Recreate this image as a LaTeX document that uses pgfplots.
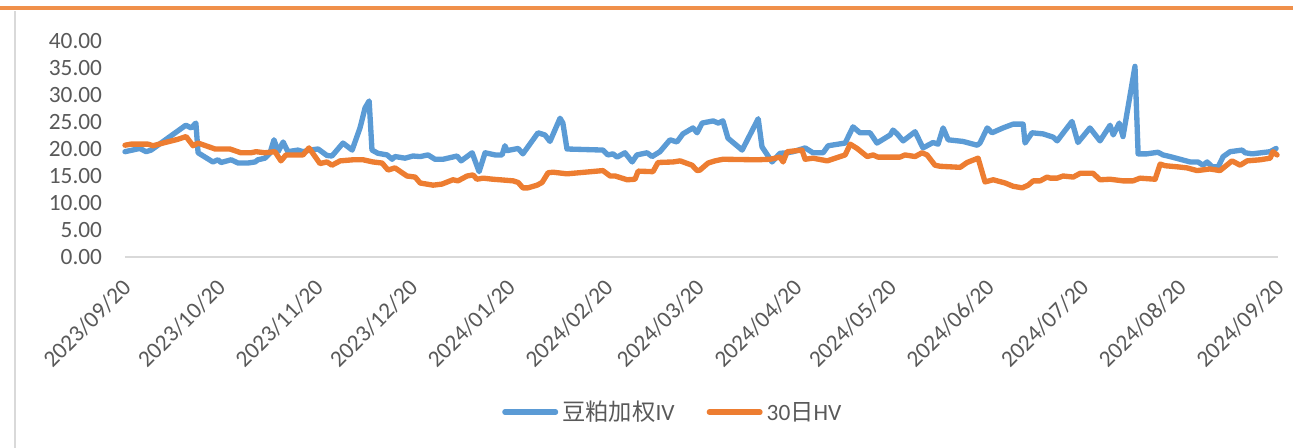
\documentclass[border=0pt]{standalone}
\usepackage{pgfplots}
\pgfplotsset{compat=1.18}
\usepackage{pgfplotstable}
\usepackage{fontspec}
\setmainfont{Carlito}
\newfontfamily\cjk{Noto Sans CJK SC}
\definecolor{ivblue}{HTML}{5B9BD5}
\definecolor{hvorange}{HTML}{ED7D31}
\definecolor{txtgray}{HTML}{595959}
\definecolor{axgray}{HTML}{D9D9D9}
\definecolor{topline}{HTML}{F0904A}

\pgfplotstableread{
d v
0 19.5
4.7 20.1
6.7 19.5
8.3 19.8
19.3 24.4
21.0 23.9
22.5 24.8
23.2 19.3
27.9 17.6
29.5 18.0
30.5 17.5
33.7 18.0
35.9 17.4
39.0 17.4
41.3 17.6
42.2 18.0
44.4 18.3
46.0 19.2
47.3 21.7
48.6 19.5
50.2 21.3
51.7 19.5
54.9 19.8
56.5 19.5
58.7 19.8
61.3 20.0
64.1 18.8
65.7 18.7
69.2 21.1
72.1 19.8
74.6 23.9
76.2 27.6
77.5 28.9
78.4 19.8
80.3 19.2
83.2 18.9
84.8 18.1
85.7 18.6
88.9 18.3
91.4 18.7
93.7 18.6
96.2 18.9
98.4 18.1
101.0 18.1
105.4 18.7
106.7 17.8
110.2 19.3
112.4 15.8
114.3 19.3
117.5 18.9
119.7 18.9
120.6 20.6
121.3 19.7
124.8 20.1
126.3 19.1
131.1 23.0
133.3 22.6
134.9 21.4
138.1 25.7
139.0 24.8
140.3 20.0
151.7 19.8
153.3 18.9
154.9 19.1
156.2 18.5
158.7 19.3
161.0 17.6
162.5 18.9
165.7 19.3
167.3 18.6
169.8 19.5
173.0 21.7
175.2 21.3
177.1 22.8
180.3 23.9
181.6 23.0
183.2 24.8
186.7 25.2
188.3 24.8
189.8 25.2
191.4 22.0
195.9 19.8
201.0 25.6
202.2 20.4
205.4 17.6
207.9 19.2
210.2 19.3
212.1 19.5
215.9 20.2
218.4 19.3
221.6 19.3
223.2 20.6
228.6 21.1
231.1 24.1
233.3 23.0
236.5 23.0
238.7 21.1
242.9 22.6
243.8 23.5
245.1 22.8
247.0 21.5
250.8 23.2
253.3 20.2
256.5 21.2
258.1 20.9
259.7 23.9
261.3 21.7
266.0 21.4
270.5 20.7
271.4 21.1
273.7 23.9
275.2 23.0
278.7 23.9
281.9 24.6
285.1 24.6
285.7 21.1
287.9 23.0
291.4 22.8
294.6 22.2
295.9 21.5
300.6 25.1
302.5 21.2
306.3 23.9
309.5 21.5
312.7 24.4
313.7 22.6
315.6 24.8
316.8 22.3
320.6 35.3
321.6 19.1
324.4 19.1
327.9 19.4
329.5 18.9
331.7 18.6
334.9 18.1
338.1 17.6
340.6 17.6
342.2 17.0
343.5 17.6
345.1 16.7
347.0 16.7
348.6 18.6
350.8 19.5
354.6 19.8
355.6 19.3
357.8 19.1
363.5 19.5
365.4 20.1
}\ivdata

\pgfplotstableread{
d v
0 20.7
1.9 20.9
7.3 20.9
8.9 20.6
12.7 21.2
16.8 21.8
19.4 22.3
21.6 20.6
23.2 21.1
28.6 20.0
33.3 20.0
36.8 19.3
40.0 19.3
41.6 19.5
44.4 19.3
47.6 19.5
49.5 17.8
51.1 18.9
56.5 18.9
58.4 20.2
61.9 17.3
64.1 17.6
65.7 17.0
68.3 17.8
72.4 18.0
75.6 18.0
78.7 17.6
81.6 17.4
83.5 16.1
85.7 16.5
89.5 15.0
92.1 14.8
93.7 13.7
97.8 13.3
100.6 13.5
104.1 14.3
105.7 14.1
108.6 15.0
110.5 15.2
111.7 14.4
113.7 14.6
116.8 14.4
119.0 14.3
123.2 14.1
124.8 13.8
126.3 12.8
127.9 12.8
130.8 13.3
132.4 13.8
134.3 15.6
135.9 15.7
140.3 15.4
151.7 16.0
154.0 15.0
155.6 15.0
159.4 14.3
161.9 14.4
162.9 15.9
167.6 15.8
169.2 17.5
174.0 17.6
176.2 17.8
180.0 17.0
181.6 16.0
182.5 16.1
185.1 17.4
187.3 17.8
189.8 18.1
200.6 18.0
204.8 18.1
207.9 18.5
208.9 17.6
210.2 19.5
214.9 19.8
215.9 18.1
218.4 18.3
222.9 17.8
228.6 18.9
230.2 20.9
232.4 20.1
235.6 18.6
237.5 18.9
239.0 18.5
246.0 18.5
247.6 18.9
250.8 18.6
253.0 19.3
254.6 18.9
257.1 17.0
258.7 16.8
265.1 16.6
267.3 17.5
270.8 18.3
273.0 13.9
275.6 14.3
279.4 13.7
281.9 13.1
284.8 12.8
286.7 13.3
288.3 14.1
290.5 14.1
292.7 14.8
293.7 14.6
295.9 14.6
297.8 15.0
301.0 14.8
303.2 15.5
307.3 15.5
309.5 14.3
312.7 14.4
316.8 14.1
320.0 14.1
322.2 14.6
327.0 14.4
328.6 17.2
330.2 16.9
334.0 16.7
337.1 16.5
340.3 16.0
344.4 16.3
347.6 16.0
351.4 17.8
354.0 17.0
356.2 17.8
360.3 18.0
363.5 18.3
364.4 19.5
365.7 18.9
}\hvdata

\begin{document}
\begin{tikzpicture}
\useasboundingbox (0,0) rectangle (969.75pt,336pt);
\begin{axis}[
  at={(93.75pt,143.25pt)}, anchor=south west,
  scale only axis, width=864.75pt, height=162pt,
  xmin=0, xmax=366, ymin=0, ymax=40,
  clip=false,
  axis x line*=bottom, axis y line*=left,
  x axis line style={draw=axgray, line width=1.5pt, -},
  y axis line style={draw=none},
  major tick length=0pt,
  xtick={0,30,61,91,122,153,182,213,243,274,304,335,366},
  xticklabels={2023/09/20,2023/10/20,2023/11/20,2023/12/20,2024/01/20,2024/02/20,2024/03/20,2024/04/20,2024/05/20,2024/06/20,2024/07/20,2024/08/20,2024/09/20},
  ytick={0,5,10,15,20,25,30,35,40},
  yticklabels={0.00,5.00,10.00,15.00,20.00,25.00,30.00,35.00,40.00},
  tick label style={font=\fontsize{17.5pt}{20pt}\selectfont, text=txtgray},
  xticklabel style={xshift=1.5pt, yshift=-20pt, rotate=45, anchor=east, inner sep=0pt},
  yticklabel style={anchor=east, inner sep=0pt, xshift=-17pt},
  legend columns=2,
  legend style={at={(0.476,-0.718)}, anchor=center, draw=none, fill=none,
    font=\fontsize{17.5pt}{20pt}\selectfont, text=txtgray,
    /tikz/every even column/.append style={column sep=21pt},
    nodes={inner sep=3pt}},
  legend image code/.code={\draw[#1, line cap=round] (0pt,0pt) -- (38pt,0pt);},
]
\addplot[ivblue, line width=4pt, line join=round, line cap=round] table[x=d,y=v] {\ivdata};
\addlegendentry{{\cjk 豆粕加权}IV}
\addplot[hvorange, line width=4pt, line join=round, line cap=round] table[x=d,y=v] {\hvdata};
\addlegendentry{30{\cjk 日}HV}
\end{axis}
\draw[topline, line width=2.6pt] (0,330pt) -- (969.75pt,330pt);
\draw[axgray, line width=1.5pt] (11.25pt,0) -- (11.25pt,328pt);
\end{tikzpicture}
\end{document}
